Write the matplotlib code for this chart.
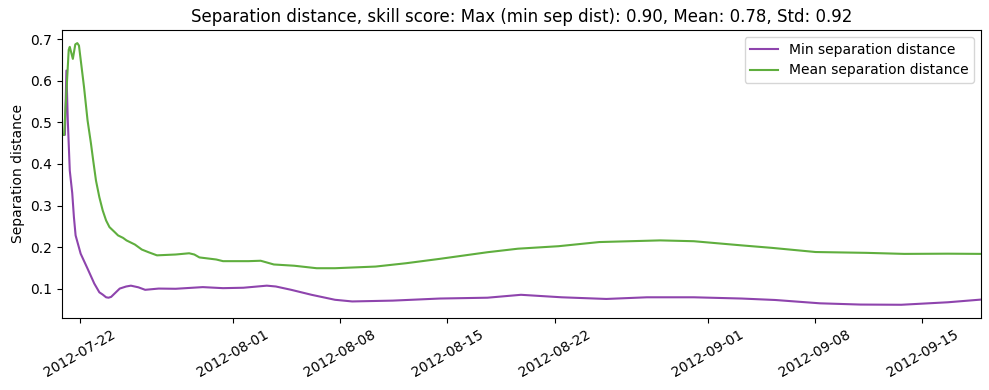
import matplotlib
matplotlib.use("Agg")
import matplotlib.pyplot as plt
import numpy as np
import pandas as pd

start = pd.Timestamp("2012-07-20 20:00")

min_days = [0.0, 0.2, 0.3, 0.39, 0.52, 0.68, 0.79, 0.9, 1.23, 1.68, 2.12, 2.45, 2.67, 2.89,
            3.05, 3.22, 3.5, 3.78, 4.2, 4.51, 5.0, 5.44, 6.32, 7.43, 9.2, 10.52, 11.85,
            13.38, 13.97, 14.97, 16.3, 17.83, 18.95, 21.6, 24.66, 27.78, 29.97, 32.62,
            35.54, 38.19, 41.25, 44.37, 46.56, 49.48, 52.13, 54.79, 57.83, 60.0]
min_vals = [0.47, 0.47, 0.625, 0.505, 0.384, 0.33, 0.272, 0.228, 0.184, 0.148, 0.112, 0.091,
            0.0855, 0.079, 0.078, 0.08, 0.09, 0.1, 0.105, 0.107, 0.103, 0.097, 0.1, 0.0995,
            0.1035, 0.101, 0.102, 0.107, 0.105, 0.097, 0.085, 0.073, 0.069, 0.071, 0.076,
            0.078, 0.085, 0.079, 0.075, 0.079, 0.079, 0.076, 0.0725, 0.0645, 0.0615, 0.061,
            0.067, 0.0735]

mean_days = [0.0, 0.15, 0.45, 0.52, 0.72, 0.88, 1.01, 1.12, 1.45, 1.68, 1.9, 2.05, 2.23, 2.45,
             2.67, 2.89, 3.11, 3.45, 3.67, 4.0, 4.22, 4.77, 5.22, 5.66, 6.21, 7.43, 8.31,
             8.65, 8.98, 10.08, 10.52, 12.18, 12.98, 13.84, 15.17, 16.63, 17.83, 20.48,
             22.47, 24.66, 27.78, 29.77, 32.42, 35.08, 39.06, 41.25, 44.37, 46.35, 49.2,
             52.52, 54.98, 57.83, 60.0]
mean_vals = [0.47, 0.47, 0.675, 0.682, 0.653, 0.688, 0.691, 0.685, 0.585, 0.505, 0.45, 0.408,
             0.36, 0.32, 0.288, 0.264, 0.248, 0.236, 0.228, 0.222, 0.216, 0.206, 0.194,
             0.1875, 0.18, 0.182, 0.185, 0.182, 0.175, 0.17, 0.166, 0.166, 0.167, 0.158,
             0.155, 0.149, 0.149, 0.153, 0.161, 0.1715, 0.1875, 0.196, 0.202, 0.212, 0.216,
             0.214, 0.204, 0.198, 0.188, 0.186, 0.1835, 0.184, 0.1835]

t_min = start + pd.to_timedelta(min_days, unit="D")
t_mean = start + pd.to_timedelta(mean_days, unit="D")

fig, ax = plt.subplots(figsize=(9.89, 3.9), dpi=100)
ax.plot(t_min, min_vals, color="#8e44ad", lw=1.5, label="Min separation distance")
ax.plot(t_mean, mean_vals, color="#5fae3e", lw=1.5, label="Mean separation distance")
ax.set_xlim(t_min[0], t_min[-1])
ax.set_ylabel("Separation distance")
ax.set_title("Separation distance, skill score: Max (min sep dist): 0.90, Mean: 0.78, Std: 0.92")
ax.legend(loc="upper right")
plt.setp(ax.get_xticklabels(), rotation=30)
fig.subplots_adjust(left=0.0625, right=0.992, top=0.923, bottom=0.185)
fig.savefig("out.png", dpi=100)
